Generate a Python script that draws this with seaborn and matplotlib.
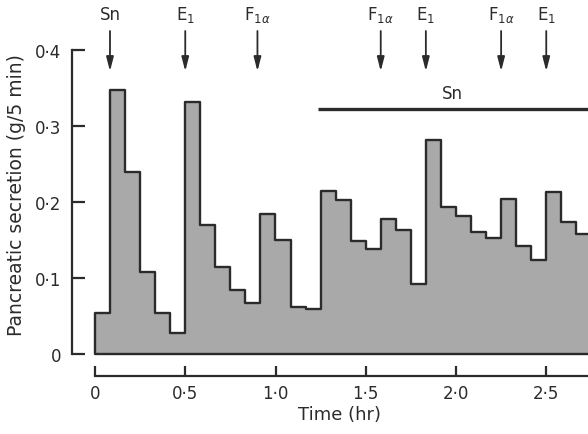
import pandas as pd
import seaborn as sns
import matplotlib.pyplot as plt

# pancreatic secretion per 5-min collection period (g/5 min), starting at t = 0
secretion = [0.054, 0.348, 0.240, 0.108, 0.054, 0.028,
             0.331, 0.170, 0.114, 0.084, 0.067, 0.184,
             0.150, 0.062, 0.059, 0.215, 0.203, 0.149,
             0.138, 0.178, 0.163, 0.092, 0.281, 0.194,
             0.181, 0.160, 0.152, 0.204, 0.142, 0.124,
             0.213, 0.174, 0.158]
period_hr = 5 / 60

# injections (time in hr)
inj_labels = ["Sn", "E$_1$", "F$_{1\\alpha}$", "F$_{1\\alpha}$", "E$_1$", "F$_{1\\alpha}$", "E$_1$"]
inj_times = [0.083, 0.5, 0.9, 1.583, 1.833, 2.25, 2.5]

# continuous secretin infusion
sn_start = 1.235
sn_end = 2.75

xticks = [0, 0.5, 1.0, 1.5, 2.0, 2.5]
xticklabels = ["0", "0\u00b75", "1\u00b70", "1\u00b75", "2\u00b70", "2\u00b75"]
yticks = [0, 0.1, 0.2, 0.3, 0.4]
yticklabels = ["0", "0\u00b71", "0\u00b72", "0\u00b73", "0\u00b74"]

ink = "#2b2b2b"
fs = 12

sns.set_theme(style="ticks")
plt.rcParams["font.family"] = ["DejaVu Sans"]

fig = plt.figure(figsize=(5.88, 4.35), dpi=100)
ax = fig.add_axes([72 / 588, 1 - 385 / 435, 1 - 72 / 588, 380 / 435])

n = len(secretion)
df = pd.DataFrame({"time": [(i + 0.5) * period_hr for i in range(n)], "secretion": secretion})
sns.histplot(data=df, x="time", weights="secretion", binwidth=period_hr,
             binrange=(0, n * period_hr), element="step", fill=True,
             color="#a9a9a9", edgecolor=ink, linewidth=1.7, alpha=1, ax=ax)

ax.set_xlim(-23 / 180.5, (588 - 95) / 180.5)
ax.set_ylim(-30 / 760, 350 / 760)

# injection arrows and labels
for lab, t in zip(inj_labels, inj_times):
    ax.annotate("", xy=(t, 0.372), xytext=(t, 0.425),
                arrowprops=dict(arrowstyle="-|>,head_width=0.18,head_length=0.7",
                                color=ink, lw=1.3, shrinkA=0, shrinkB=0),
                annotation_clip=False)
    ax.text(t, 0.447, lab, ha="center", va="center", fontsize=fs, color=ink)

ax.plot([sn_start, sn_end], [0.323, 0.323], color=ink, lw=2.4, solid_capstyle="butt")
ax.text(1.98, 0.343, "Sn", ha="center", va="center", fontsize=fs, color=ink)

for side in ["top", "right"]:
    ax.spines[side].set_visible(False)
ax.spines["left"].set_bounds(0, 0.4)
ax.spines["bottom"].set_position(("data", -0.0286))
ax.spines["bottom"].set_bounds(0, 3)
for side in ["left", "bottom"]:
    ax.spines[side].set_linewidth(1.6)
    ax.spines[side].set_color(ink)

ax.set_xticks(xticks)
ax.set_xticklabels(xticklabels)
ax.set_yticks(yticks)
ax.set_yticklabels(yticklabels)
ax.tick_params(axis="y", direction="in", length=9.5, width=1.6, color=ink,
               labelsize=fs, labelcolor=ink, pad=8)
ax.tick_params(axis="x", direction="in", length=7.5, width=1.6, color=ink,
               labelsize=fs, labelcolor=ink, pad=6)

ax.set_xlabel("Time (hr)", fontsize=13, color=ink)
ax.set_ylabel("Pancreatic secretion (g/5 min)", fontsize=13.5, color=ink)
ax.yaxis.set_label_coords(-46 / 516, (0.21 + 30 / 760) / (380 / 760))
ax.xaxis.set_label_coords((340 - 72) / 516, -21 / 380)

fig.savefig("out.png", dpi=100)
